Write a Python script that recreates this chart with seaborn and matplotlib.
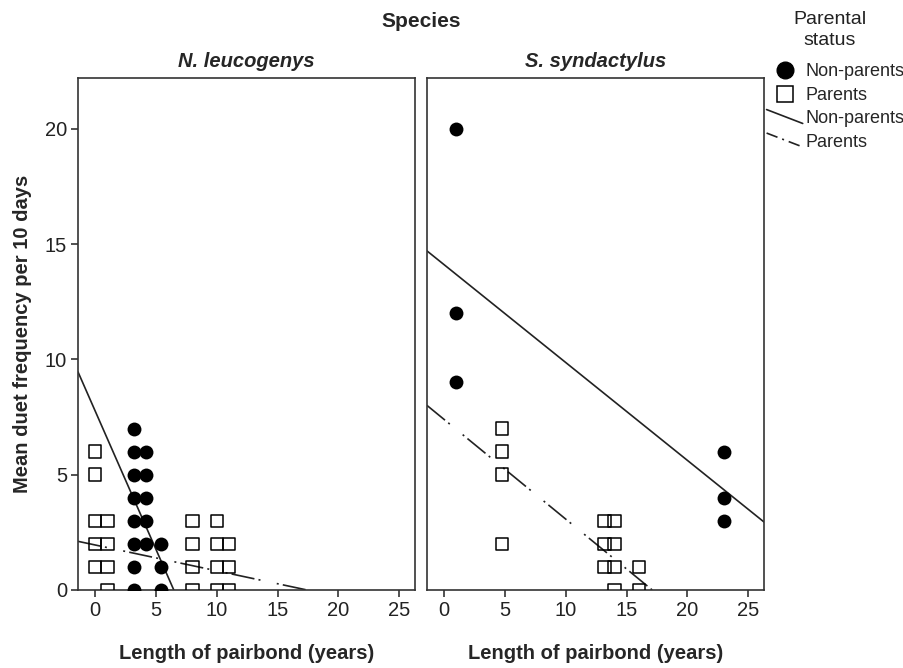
import numpy as np
import pandas as pd
import matplotlib
matplotlib.use("Agg")
import matplotlib.pyplot as plt
import seaborn as sns
from matplotlib.lines import Line2D
from matplotlib.legend_handler import HandlerLine2D

# data
species = ["N. leucogenys", "S. syndactylus"]

nl_nonpar_x = [3.2, 3.2, 3.2, 3.2, 3.2, 3.2, 3.2, 3.2, 4.2, 4.2, 4.2, 4.2, 4.2, 5.4, 5.4, 5.4]
nl_nonpar_y = [7, 6, 5, 4, 3, 2, 1, 0, 6, 5, 4, 3, 2, 2, 1, 0]
nl_par_x = [0, 0, 0, 0, 0, 1, 1, 1, 1, 8, 8, 8, 8, 10, 10, 10, 10, 11, 11, 11]
nl_par_y = [6, 5, 3, 2, 1, 3, 2, 1, 0, 3, 2, 1, 0, 3, 2, 1, 0, 2, 1, 0]

ss_nonpar_x = [1, 1, 1, 23, 23, 23]
ss_nonpar_y = [20, 12, 9, 6, 4, 3]
ss_par_x = [4.75, 4.75, 4.75, 4.75, 13.2, 13.2, 13.2, 14, 14, 14, 14, 16, 16]
ss_par_y = [7, 6, 5, 2, 3, 2, 1, 3, 2, 1, 0, 1, 0]

# fit lines (intercept, slope) per species
fit_nonpar = [(7.75, -1.2), (14.1, -0.424)]
fit_par = [(1.95, -0.112), (7.39, -0.432)]

rows = []
for sp, xs, ys, st in [(species[0], nl_nonpar_x, nl_nonpar_y, "Non-parents"),
                       (species[0], nl_par_x, nl_par_y, "Parents"),
                       (species[1], ss_nonpar_x, ss_nonpar_y, "Non-parents"),
                       (species[1], ss_par_x, ss_par_y, "Parents")]:
    for x, y in zip(xs, ys):
        rows.append({"species": sp, "years": x, "duets": y, "status": st})
df = pd.DataFrame(rows)

sns.set_style("ticks")
plt.rcParams['font.family'] = ['Liberation Sans', 'DejaVu Sans']

dashdot = (0, (14, 2.5, 1.2, 10, 1.2, 2.5))
frame_col = "#333333"

fig = plt.figure(figsize=(9.04, 6.68), dpi=100)
ax1 = fig.add_axes([0.0863, 0.1168, 0.3728, 0.7665])
ax2 = fig.add_axes([0.4723, 0.1168, 0.3728, 0.7665])

for i, (ax, sp) in enumerate(zip([ax1, ax2], species)):
    d = df[df["species"] == sp]
    np_d = d[d["status"] == "Non-parents"]
    p_d = d[d["status"] == "Parents"]
    sns.scatterplot(data=np_d, x="years", y="duets", marker="o", s=100,
                    color="black", edgecolor="black", linewidth=0, ax=ax, zorder=3)
    sns.scatterplot(data=p_d, x="years", y="duets", marker="s", s=80,
                    facecolor="none", edgecolor="black", linewidth=1.1, ax=ax, zorder=3)
    b, m = fit_nonpar[i]
    ax.axline((0, b), slope=m, color="#222222", lw=1.2, zorder=2)
    b, m = fit_par[i]
    ax.axline((0, b), slope=m, color="#222222", lw=1.2, linestyle=dashdot, zorder=2)

    ax.set_xlim(-1.42, 26.3)
    ax.set_ylim(0, 22.2)
    ax.set_xticks([0, 5, 10, 15, 20, 25])
    ax.set_yticks([0, 5, 10, 15, 20])
    ax.set_title(sp, fontsize=14.5, fontweight="bold", style="italic", pad=8)
    ax.set_xlabel("Length of pairbond (years)", fontsize=14.5, fontweight="bold", labelpad=17)
    for s in ax.spines.values():
        s.set_visible(True)
        s.set_color(frame_col)
        s.set_linewidth(1.2)
    ax.tick_params(axis="both", labelsize=14.5, length=5, width=1.2, color=frame_col,
                   labelcolor="#222222", pad=3)

ax1.set_ylabel("Mean duet frequency per 10 days", fontsize=14.5, fontweight="bold", labelpad=9)
ax2.set_ylabel("")
ax2.tick_params(axis="y", left=False, labelleft=False)

fig.text(0.4657, 0.968, "Species", ha="center", va="center", fontsize=15, fontweight="bold")
fig.text(0.918, 0.955, "Parental\nstatus", ha="center", va="center", fontsize=14,
         linespacing=1.25, color="#222222")


class SlantedLine(HandlerLine2D):
    def create_artists(self, legend, orig_handle, xdescent, ydescent, width, height, fontsize, trans):
        line = Line2D([-xdescent, width - xdescent], [height * 1.1 - ydescent, -ydescent])
        self.update_prop(line, orig_handle, legend)
        line.set_transform(trans)
        return [line]


handles = [
    Line2D([], [], marker="o", linestyle="none", markersize=12, color="black"),
    Line2D([], [], marker="s", linestyle="none", markersize=11, markerfacecolor="none",
           markeredgecolor="black", markeredgewidth=1.1),
    Line2D([], [], color="#222222", lw=1.2),
    Line2D([], [], color="#222222", lw=1.2, linestyle=(0, (7, 3, 1.2, 3))),
]
labels = ["Non-parents", "Parents", "Non-parents", "Parents"]
leg = fig.legend(handles, labels, loc="upper left",
                 bbox_to_anchor=(0.848, 0.905), frameon=False, fontsize=13,
                 handlelength=2.0, handletextpad=0.15,
                 labelspacing=0.36, borderpad=0, borderaxespad=0,
                 handler_map={handles[2]: SlantedLine(), handles[3]: SlantedLine()})

fig.savefig("out.png", dpi=100)
